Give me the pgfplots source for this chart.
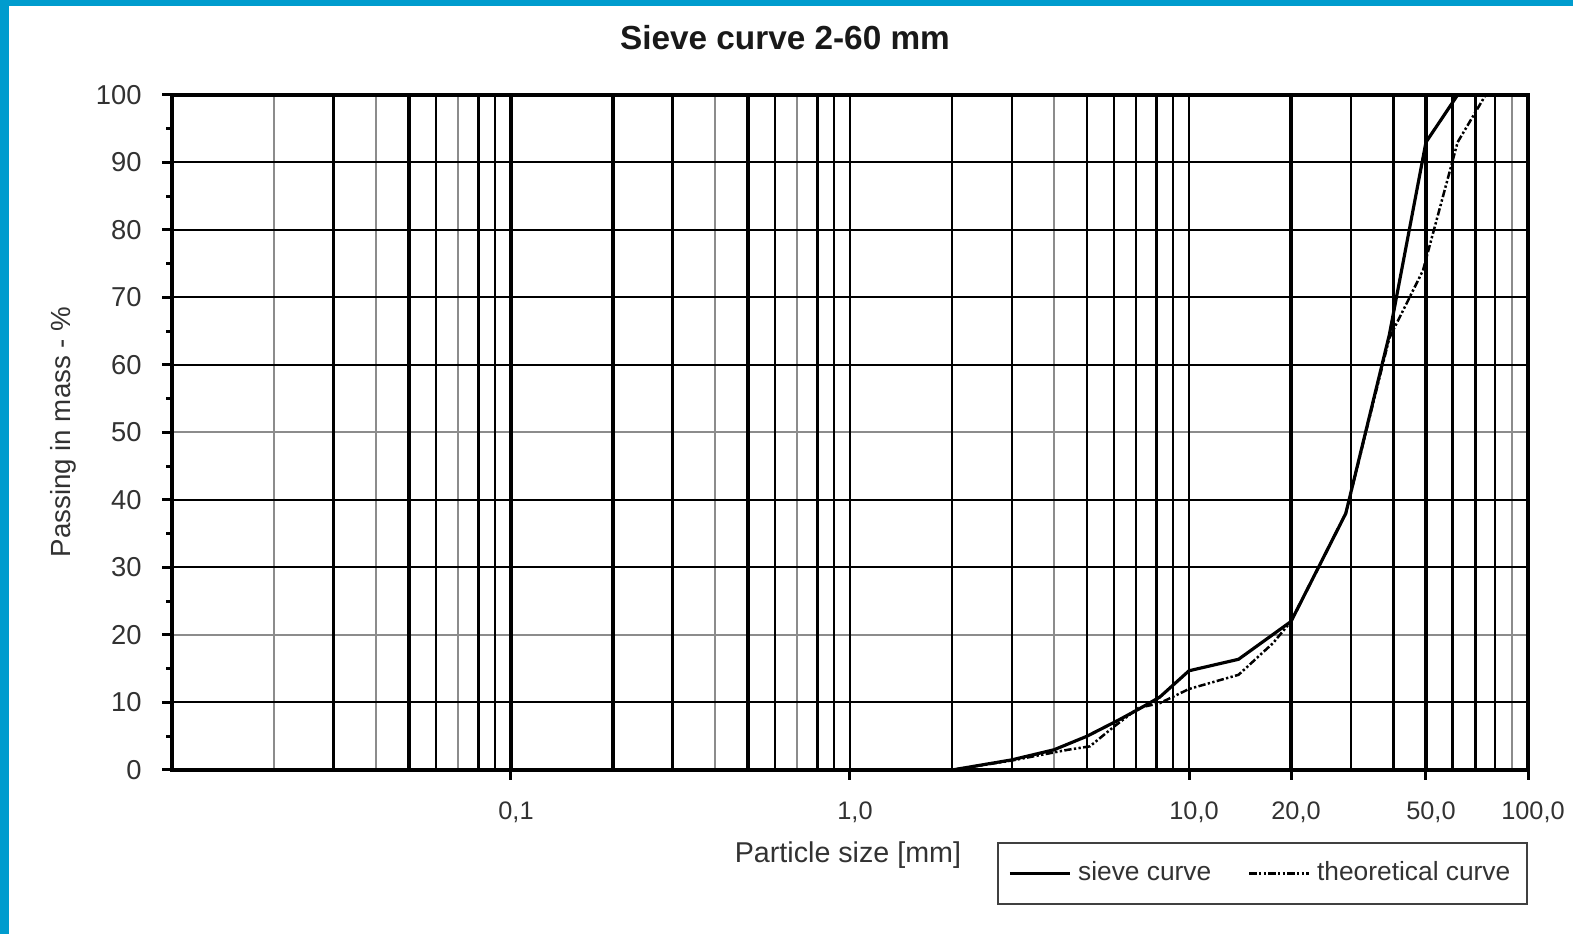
\documentclass[border=0pt]{standalone}
\usepackage{pgfplots}
\pgfplotsset{compat=1.18}
\usepackage{fontspec}
\setmainfont{Liberation Sans}
\definecolor{frameblue}{RGB}{0,156,206}
\definecolor{txt}{RGB}{50,50,50}
\pgfplotsset{
  base/.style={xmin=0.01, xmax=100, ymin=0, ymax=100,
    scale only axis, width=406.8pt, height=202.5pt, at={(0,0)}, anchor=south west},
  gridonly/.style={base, axis line style={draw=none}, major tick length=0pt, minor tick length=0pt,
    xticklabels={}, yticklabels={}, minor xtick={}, minor ytick={}},
}
\begin{document}
\begin{tikzpicture}
\path[use as bounding box] (-51.6pt,-49.2pt) rectangle (420.3pt,231pt);
\fill[white] (-51.6pt,-49.2pt) rectangle (420.3pt,231pt);
\fill[frameblue] (-51.6pt,229.2pt) rectangle (420.3pt,231pt);
\fill[frameblue] (-51.6pt,-49.2pt) rectangle (-48.9pt,231pt);
% gray grid lines
\begin{semilogxaxis}[gridonly,
  xtick={0.02,0.04,0.07,0.4,0.7,4,90}, ytick={20,50},
  xmajorgrids=true, ymajorgrids=true,
  major grid style={black!45, line width=0.6pt}]
\end{semilogxaxis}
% medium grid lines
\begin{semilogxaxis}[gridonly,
  xtick={0.06,0.09,0.6,0.9,1,2,3,5,6,7,9,10,30,80}, ytick={10,30,40,60,70,80,90},
  xmajorgrids=true, ymajorgrids=true,
  major grid style={black, line width=0.6pt}]
\end{semilogxaxis}
% thick grid lines
\begin{semilogxaxis}[gridonly,
  xtick={0.03,0.05,0.08,0.1,0.2,0.3,0.5,0.8,8,20,40,50,60,70},
  xmajorgrids=true, ymajorgrids=false,
  major grid style={black, line width=0.95pt}]
\end{semilogxaxis}
% main axis
\begin{semilogxaxis}[base,
  axis line style={black, line width=1pt},
  xtick={0.1,1,10,20,50,100},
  xticklabels={{0,1},{1,0},{10,0},{20,0},{50,0},{100,0}},
  minor xtick={},
  ytick={0,10,...,100}, minor ytick={5,15,...,95},
  /pgf/number format/assume math mode=true,
  tick align=outside, tick pos=left,
  major tick length=3pt, minor tick length=1.8pt,
  every tick/.style={black, line width=0.9pt},
  x tick label style={font=\fontsize{7.6}{9}\selectfont, text=txt, yshift=-3pt, xshift=1.5pt},
  y tick label style={font=\fontsize{8.2}{9}\selectfont, text=txt, xshift=-2.6pt},
  xlabel={Particle size [mm]},
  ylabel={Passing in mass - \%},
  xlabel style={font=\fontsize{8.6}{10}\selectfont, text=txt, at={(axis description cs:0.4985,-0.126)}, anchor=center},
  ylabel style={font=\fontsize{8.3}{10}\selectfont, text=txt, at={(axis description cs:-0.0804,0.5007)}, anchor=center},
  legend columns=2,
  legend cell align=left,
  legend image code/.code={\draw[#1] (0pt,0pt) -- (18pt,0pt);},
  legend style={at={(1,0)}, anchor=north east, yshift=-21.6pt,
    draw=black!75, line width=0.6pt, font=\fontsize{7.9}{9}\selectfont, text=txt,
    inner xsep=3pt, inner ysep=3.5pt,
    /tikz/every even column/.append style={column sep=9pt}},
]
\addplot[black, line width=0.95pt] coordinates {
 (1.6,0) (2,0) (3,1.5) (4,3) (5,5) (6.2,7.4) (7.1,9) (8.2,10.8) (10,14.7) (14,16.4) (20,22) (29,38) (39,64.5) (50,93) (62,100)
};
\addlegendentry{sieve curve}
\addplot[black, line width=0.75pt, dash pattern=on 2.2pt off 0.7pt on 0.7pt off 0.7pt on 0.7pt off 0.7pt] coordinates {
 (2,0) (3,1.4) (4.4,3) (5.1,3.5) (6,6.4) (7.1,9.2) (8.2,9.9) (10,12) (14,14.1) (17.7,18.8) (20,22) (29,38) (39,64) (49,74) (62,93) (75,100)
};
\addlegendentry{theoretical curve}
\end{semilogxaxis}
\node[font=\fontsize{10}{12}\selectfont\bfseries, text=black!90] at (183.9pt,219.6pt) {Sieve curve 2-60 mm};
\end{tikzpicture}
\end{document}
